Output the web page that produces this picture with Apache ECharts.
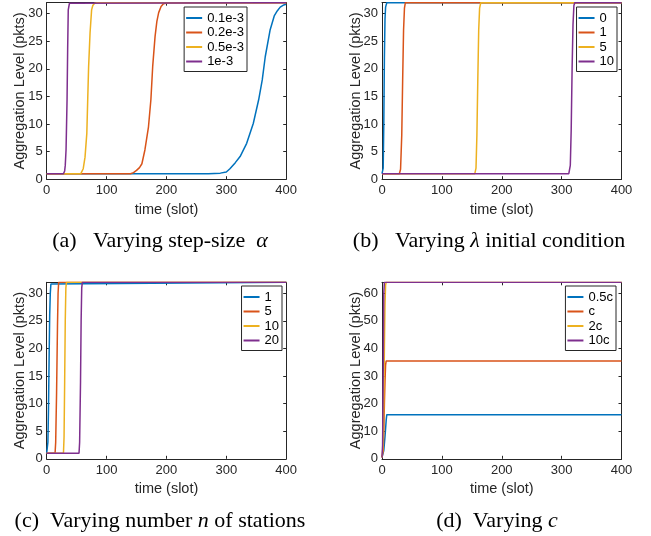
<!DOCTYPE html>
<html>
<head>
<meta charset="utf-8">
<script src="https://cdn.jsdelivr.net/npm/echarts@6/dist/echarts.min.js"></script>
<style>
  html, body { margin: 0; padding: 0; background: #fff; }
  #wrap { position: relative; width: 651px; height: 536px; }
  .panel { position: absolute; }
</style>
</head>
<body>
<div id="wrap">
  <div id="pa" class="panel" style="left:0;top:0;width:325px;height:268px;"></div>
  <div id="pb" class="panel" style="left:325px;top:0;width:326px;height:268px;"></div>
  <div id="pc" class="panel" style="left:0;top:268px;width:325px;height:268px;"></div>
  <div id="pd" class="panel" style="left:325px;top:268px;width:326px;height:268px;"></div>
</div>
<script>
// MATLAB default line colours
var colors = ['#0072BD', '#D95319', '#EDB120', '#7E2F8E'];

var xTicks = [0, 100, 200, 300, 400];
var yTicks32 = [0, 5, 10, 15, 20, 25, 30];
var yMax32 = 32;
var yTicks64 = [0, 10, 20, 30, 40, 50, 60];
var yMax64 = 64;

// (a) step-size alpha
var namesA = ['0.1e-3', '0.2e-3', '0.5e-3', '1e-3'];
var aBlue = [[0,1],[270,1],[290,1.1],[300,1.3],[306,1.9],[315,3],[323,4.1],[334,6.5],[345,10.1],[354,14.4],[360,18],[365,22.2],[373,27],[380,29.6],[385,30.5],[390,31.2],[396,31.6],[400,31.7]];
var aOrange = [[0,1],[140,1],[145,1.2],[150,1.6],[155,2.1],[159,2.8],[164,5.3],[170,9.5],[174,14.4],[177,20.4],[181,25.9],[184,28.6],[187,30.2],[191,31.3],[195,31.8],[203,32],[400,32]];
var aYellow = [[0,1],[57,1],[59,1.2],[61,1.9],[64,4],[67,8.3],[68.5,14.4],[70,20.4],[72.4,26.5],[75,30.7],[77,31.5],[80,31.9],[84,32],[400,32]];
var aPurple = [[0,1],[28,1],[30,1.5],[31,2.5],[32.3,5.3],[34,14.4],[35,23.5],[36,30.7],[38,31.9],[40,32],[400,32]];

// (b) lambda initial condition
var namesB = ['0', '1', '5', '10'];
var bBlue = [[0,1],[2,2],[3,10],[4,22],[5,29],[6,31.2],[8,32],[400,32]];
var bOrange = [[0,1],[29,1],[31,1.8],[33,8],[34.5,18],[36,27],[37.5,31],[39,32],[400,32]];
var bYellow = [[0,1],[155,1],[157,2],[158.5,8],[160,18],[161.5,27],[163,31],[165,32],[400,32]];
var bPurple = [[0,1],[312,1],[314.5,2.5],[316,9],[317.5,20],[319,28],[320.5,31.5],[322,32],[400,32]];

// (c) number n of stations
var namesC = ['1', '5', '10', '20'];
var cBlue = [[0,1],[2,3],[3,9],[4,18],[5,26],[6,30],[7,31.7],[8,32],[400,32]];
var cOrange = [[0,1],[14,1],[15,3],[16.5,12],[18,24],[19,30],[20,32],[400,32]];
var cYellow = [[0,1],[28,1],[29,4],[30,14],[31,25],[32,31],[33,32],[400,32]];
var cPurple = [[0,1],[54,1],[55,3],[56.5,14],[57.5,25],[58.5,31],[59.5,32],[400,32]];

// (d) c
var namesD = ['0.5c', 'c', '2c', '10c'];
var dBlue = [[0,0.5],[3,3],[5,8],[7,14],[8,16],[400,16]];
var dOrange = [[0,0.5],[2,3],[3,10],[4,20],[5,28],[6,34],[7,35.5],[400,35.5]];
var dYellow = [[0,0.5],[2,5],[3,20],[4,40],[5,56],[6,63],[7,64],[400,64]];
var dPurple = [[0,0.5],[1,5],[2,30],[3,60],[4,64],[400,64]];

var sans = 'Liberation Sans';
var serif = 'Liberation Serif';
var ink = '#262626';

function boxAxis(kind, pos, ticks, max, withLabel) {
  var ax = {
    type: 'value',
    position: pos,
    min: ticks[0],
    max: max,
    interval: ticks[1] - ticks[0],
    axisLine: { show: true, onZero: false, lineStyle: { color: ink, width: 1 } },
    axisTick: { show: true, inside: true, length: 3, lineStyle: { color: ink, width: 1 } },
    axisLabel: {
      show: withLabel, color: ink, fontFamily: sans, fontSize: 13,
      margin: kind == 'x' ? 5 : 4, showMaxLabel: max == ticks[ticks.length - 1]
    },
    splitLine: { show: false }
  };
  if (withLabel) {
    ax.name = kind == 'x' ? 'time (slot)' : 'Aggregation Level (pkts)';
    ax.nameLocation = 'middle';
    ax.nameGap = kind == 'x' ? 23 : 19;
    ax.nameMoveOverlap = false;
    ax.nameTextStyle = { color: ink, fontFamily: sans, fontSize: 14.5 };
  }
  return ax;
}

function makeOption(p) {
  var series = [];
  for (var i = 0; i < p.data.length; i++) {
    series.push({
      name: p.names[i],
      type: 'line',
      data: p.data[i],
      symbol: 'none',
      animation: false,
      lineStyle: { color: colors[i], width: 1.5 },
      itemStyle: { color: colors[i] }
    });
  }
  return {
    backgroundColor: '#fff',
    animation: false,
    grid: { left: p.left, top: p.top, width: 239.5, height: 176.5, outerBoundsMode: 'none', containLabel: false },
    xAxis: [boxAxis('x', 'bottom', xTicks, 400, true), boxAxis('x', 'top', xTicks, 400, false)],
    yAxis: [boxAxis('y', 'left', p.yTicks, p.yMax, true), boxAxis('y', 'right', p.yTicks, p.yMax, false)],
    legend: {
      orient: 'vertical',
      right: p.legRight,
      top: p.legTop,
      data: p.names,
      icon: 'rect',
      backgroundColor: '#fff',
      borderColor: ink,
      borderWidth: 1,
      borderRadius: 0,
      padding: [4, 3, 3, 2],
      itemGap: 0.5,
      itemWidth: 16,
      itemHeight: 2,
      textStyle: { color: '#000', fontFamily: sans, fontSize: 13, lineHeight: 14 }
    },
    graphic: [{
      type: 'text',
      x: p.capX,
      y: p.capY,
      style: {
        text: p.caption,
        fill: '#000',
        font: '22px "Liberation Serif"',
        textAlign: 'center',
        textVerticalAlign: 'middle',
        rich: { i: { fontStyle: 'italic', fontFamily: serif, fontSize: 22 } }
      }
    }],
    series: series
  };
}

var panels = [
  { id: 'pa', names: namesA, data: [aBlue, aOrange, aYellow, aPurple], left: 46.7, top: 2.7,
    yTicks: yTicks32, yMax: yMax32, legRight: 78, legTop: 7,
    caption: '(a)   Varying step-size  {i|α}', capX: 160, capY: 241 },
  { id: 'pb', names: namesB, data: [bBlue, bOrange, bYellow, bPurple], left: 57, top: 2.7,
    yTicks: yTicks32, yMax: yMax32, legRight: 34, legTop: 7,
    caption: '(b)   Varying {i|λ} initial condition', capX: 164, capY: 241 },
  { id: 'pc', names: namesC, data: [cBlue, cOrange, cYellow, cPurple], left: 46.7, top: 14.3,
    yTicks: yTicks32, yMax: yMax32, legRight: 43, legTop: 18,
    caption: '(c)  Varying number {i|n} of stations', capX: 160, capY: 253 },
  { id: 'pd', names: namesD, data: [dBlue, dOrange, dYellow, dPurple], left: 57, top: 14.3,
    yTicks: yTicks64, yMax: yMax64, legRight: 35, legTop: 18,
    caption: '(d)  Varying {i|c}', capX: 172, capY: 253 }
];

for (var k = 0; k < panels.length; k++) {
  var chart = echarts.init(document.getElementById(panels[k].id), null, { renderer: 'canvas' });
  chart.setOption(makeOption(panels[k]));
}
</script>
</body>
</html>
